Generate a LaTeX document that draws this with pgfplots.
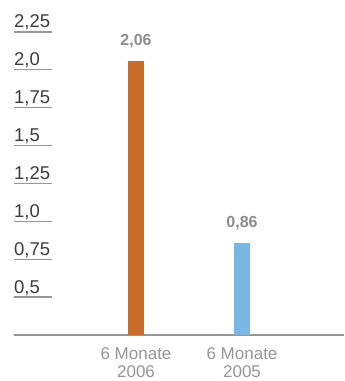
\documentclass[border=0pt]{standalone}
\usepackage{pgfplots}
\pgfplotsset{compat=1.18}
\usepackage{fontspec}
\setmainfont{Liberation Sans}
\definecolor{barorange}{RGB}{200,108,44}
\definecolor{barblue}{RGB}{122,183,227}
\definecolor{ticktext}{RGB}{60,60,60}
\definecolor{linegray}{RGB}{150,150,150}
\definecolor{vallabel}{RGB}{140,140,140}
\definecolor{catlabel}{RGB}{150,150,150}
\begin{document}
\begin{tikzpicture}
\begin{axis}[
  scale only axis, width=330pt, height=335pt,
  xmin=-0.151, xmax=2.962, ymin=0.25, ymax=2.461,
  axis x line*=bottom, axis y line*=left,
  separate axis lines,
  y axis line style={draw=none},
  x axis line style={draw=linegray, line width=1.2pt, -},
  xtick={1,2}, xticklabels={{6 Monate\\2006},{6 Monate\\2005}},
  xticklabel style={align=center, font=\fontsize{17}{18.5}\selectfont, text=catlabel, inner sep=0pt, yshift=-12pt},
  major x tick style={draw=none},
  ytick={0.5,0.75,1,1.25,1.5,1.75,2,2.25},
  yticklabels={{0,5},{0,75},{1,0},{1,25},{1,5},{1,75},{2,0},{2,25}},
  tick align=inside, major tick length=38pt,
  y tick style={draw=linegray, line width=1.3pt},
  yticklabel style={anchor=base west, inner sep=0pt, font=\fontsize{18.5}{20}\selectfont, text=ticktext, yshift=4pt},
  point meta=explicit symbolic,
  nodes near coords,
  every node near coord/.append style={font=\bfseries\fontsize{16}{17}\selectfont, text=vallabel, anchor=base, inner sep=0pt, yshift=15pt},
]
\addplot[ybar, bar width=16pt, bar shift=0pt, fill=barorange, draw=none] coordinates {(1,2.06) [2,06]};
\addplot[ybar, bar width=16pt, bar shift=0pt, fill=barblue, draw=none] coordinates {(2,0.86) [0,86]};
\end{axis}
\path (current axis.south west) ++(-14pt,-46pt) rectangle (current axis.north east);
\end{tikzpicture}
\end{document}
